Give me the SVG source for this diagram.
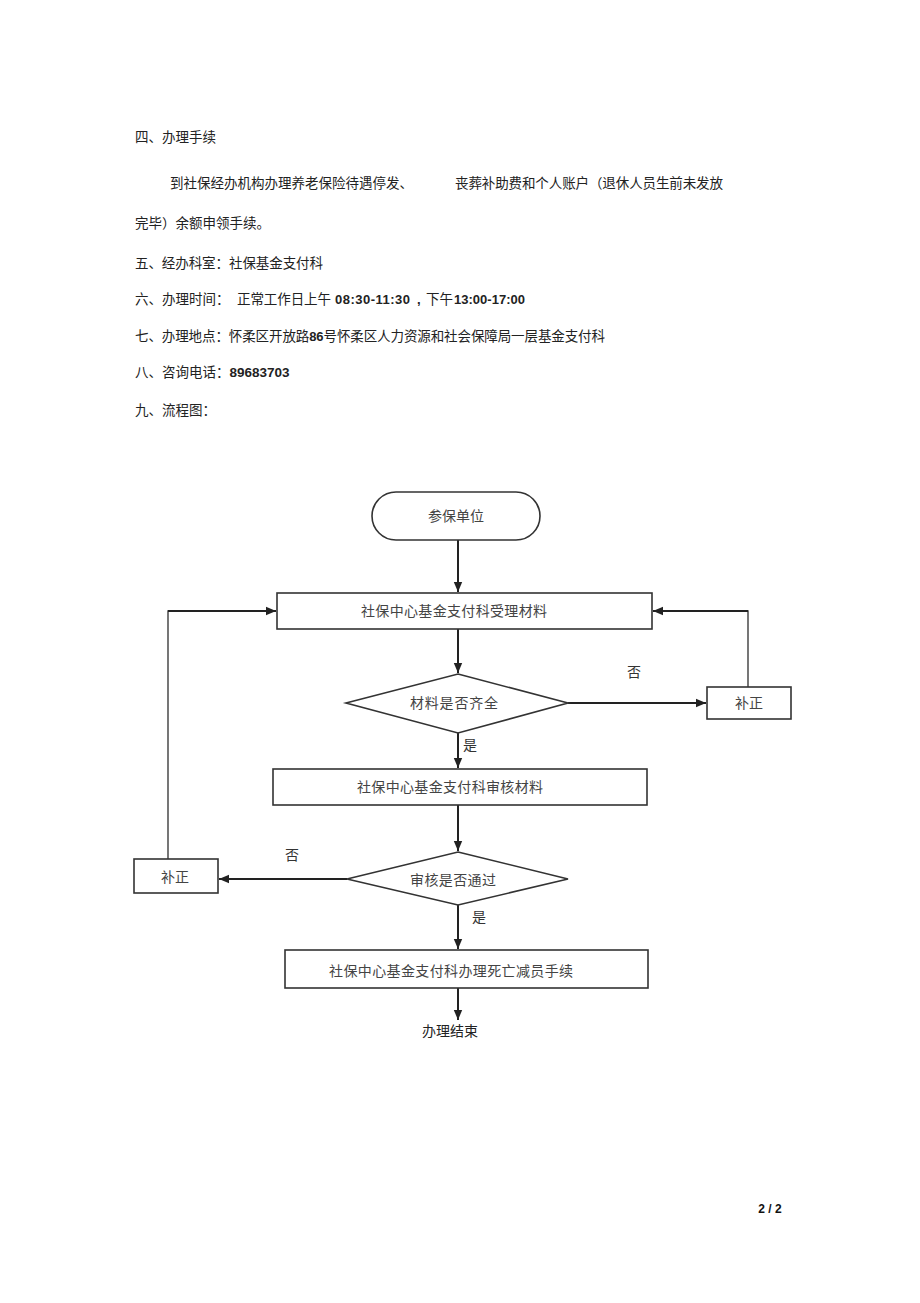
<svg xmlns="http://www.w3.org/2000/svg" width="920" height="1303" viewBox="0 0 920 1303">
  <defs>
    <marker id="arr" markerUnits="userSpaceOnUse" markerWidth="10" markerHeight="10" viewBox="0 0 10 10" refX="10" refY="5" orient="auto">
      <path d="M0,0.8 L10,5 L0,9.2 Z" fill="#222"/>
    </marker>
    <style>
      .t { font-family: "Liberation Sans", "Noto Sans CJK SC", sans-serif; font-size: 13.5px; fill: #222; }
      .num { font-family: "Liberation Sans", "Noto Sans CJK SC", sans-serif; font-size: 13px; fill: #222; font-weight: bold; }
      .n { font-family: "Liberation Sans", "Noto Sans CJK SC", sans-serif; font-size: 14px; fill: #444; text-anchor: middle; }
      .box { fill: #fff; stroke: #333; stroke-width: 1.6; }
      .c { fill: none; stroke: #222; stroke-width: 2; marker-end: url(#arr); }
      .cn { fill: none; stroke: #555; stroke-width: 1.6; }
      .lbl { font-family: "Liberation Sans", "Noto Sans CJK SC", sans-serif; font-size: 14px; fill: #333; text-anchor: middle; }
    </style>
  </defs>
  <rect width="920" height="1303" fill="#fff"/>

  <g id="body-text">
    <text class="t" x="135" y="142">四、办理手续</text>
    <text class="t" x="170" y="188" textLength="243">到社保经办机构办理养老保险待遇停发、</text>
    <text class="t" x="455" y="188" textLength="268">丧葬补助费和个人账户（退休人员生前未发放</text>
    <text class="t" x="135" y="228">完毕）余额申领手续。</text>
    <text class="t" x="135" y="268" textLength="188">五、经办科室：社保基金支付科</text>
    <text class="t" x="135" y="304">六、办理时间：</text>
    <text class="t" x="237" y="304" textLength="94">正常工作日上午</text>
    <text class="num" x="335" y="304" textLength="75">08:30-11:30</text>
    <text class="num" x="417" y="304">,</text>
    <text class="t" x="426" y="304">下午</text>
    <text class="num" x="454" y="304" textLength="71">13:00-17:00</text>
    <text class="t" x="135" y="341" textLength="470">七、办理地点：怀柔区开放路<tspan class="num" style="font-size:13px">86</tspan>号怀柔区人力资源和社会保障局一层基金支付科</text>
    <text class="t" x="135" y="377">八、咨询电话：<tspan style="font-weight:bold">89683703</tspan></text>
    <text class="t" x="135" y="415">九、流程图：</text>
  </g>

  <g id="connectors">
    <path class="c" d="M458,540 L458,592"/>
    <path class="c" d="M458,629 L458,673"/>
    <path class="c" d="M568,703 L706,703"/>
    <path class="cn" d="M748,687 L748,611 L662,611"/>
    <path class="c" d="M748,611 L653,611"/>
    <path class="c" d="M458,733 L458,768"/>
    <path class="c" d="M458,805 L458,851"/>
    <path class="c" d="M347,879 L219,879"/>
    <path class="cn" d="M168,859 L168,611 L268,611"/>
    <path class="c" d="M168,611 L276,611"/>
    <path class="c" d="M458,905 L458,949"/>
    <path class="c" d="M458,988 L458,1020"/>
  </g>

  <g id="start">
    <rect class="box" x="372" y="492" width="168" height="48" rx="24" ry="24"/>
    <text class="n" x="456" y="521">参保单位</text>
  </g>

  <g id="accept">
    <rect class="box" x="277" y="593" width="375" height="36"/>
    <text class="n" x="454" y="616" textLength="186">社保中心基金支付科受理材料</text>
  </g>

  <g id="check-complete">
    <polygon class="box" points="458,674 568,703 458,733 346,703"/>
    <text class="n" x="454" y="708" textLength="88">材料是否齐全</text>
  </g>

  <g id="fix-right">
    <rect class="box" x="707" y="687" width="84" height="32"/>
    <text class="n" x="749" y="708">补正</text>
  </g>

  <g id="review">
    <rect class="box" x="273" y="769" width="374" height="36"/>
    <text class="n" x="450" y="792" textLength="186">社保中心基金支付科审核材料</text>
  </g>

  <g id="check-pass">
    <polygon class="box" points="458,852 568,879 458,905 347,879"/>
    <text class="n" x="453" y="885" textLength="86">审核是否通过</text>
  </g>

  <g id="fix-left">
    <rect class="box" x="134" y="859" width="84" height="34"/>
    <text class="n" x="175" y="882">补正</text>
  </g>

  <g id="process">
    <rect class="box" x="285" y="950" width="363" height="38"/>
    <text class="n" x="451" y="976" textLength="244">社保中心基金支付科办理死亡减员手续</text>
  </g>

  <g id="end">
    <text class="lbl" x="450" y="1036" style="fill:#222">办理结束</text>
  </g>

  <g id="labels">
    <text class="lbl" x="634" y="677">否</text>
    <text class="lbl" x="470" y="750">是</text>
    <text class="lbl" x="292" y="860">否</text>
    <text class="lbl" x="479" y="922">是</text>
  </g>

  <text x="770" y="1213" style="font-family:'Liberation Sans',sans-serif;font-size:12px;font-weight:bold;fill:#111;text-anchor:middle">2 / 2</text>
</svg>
